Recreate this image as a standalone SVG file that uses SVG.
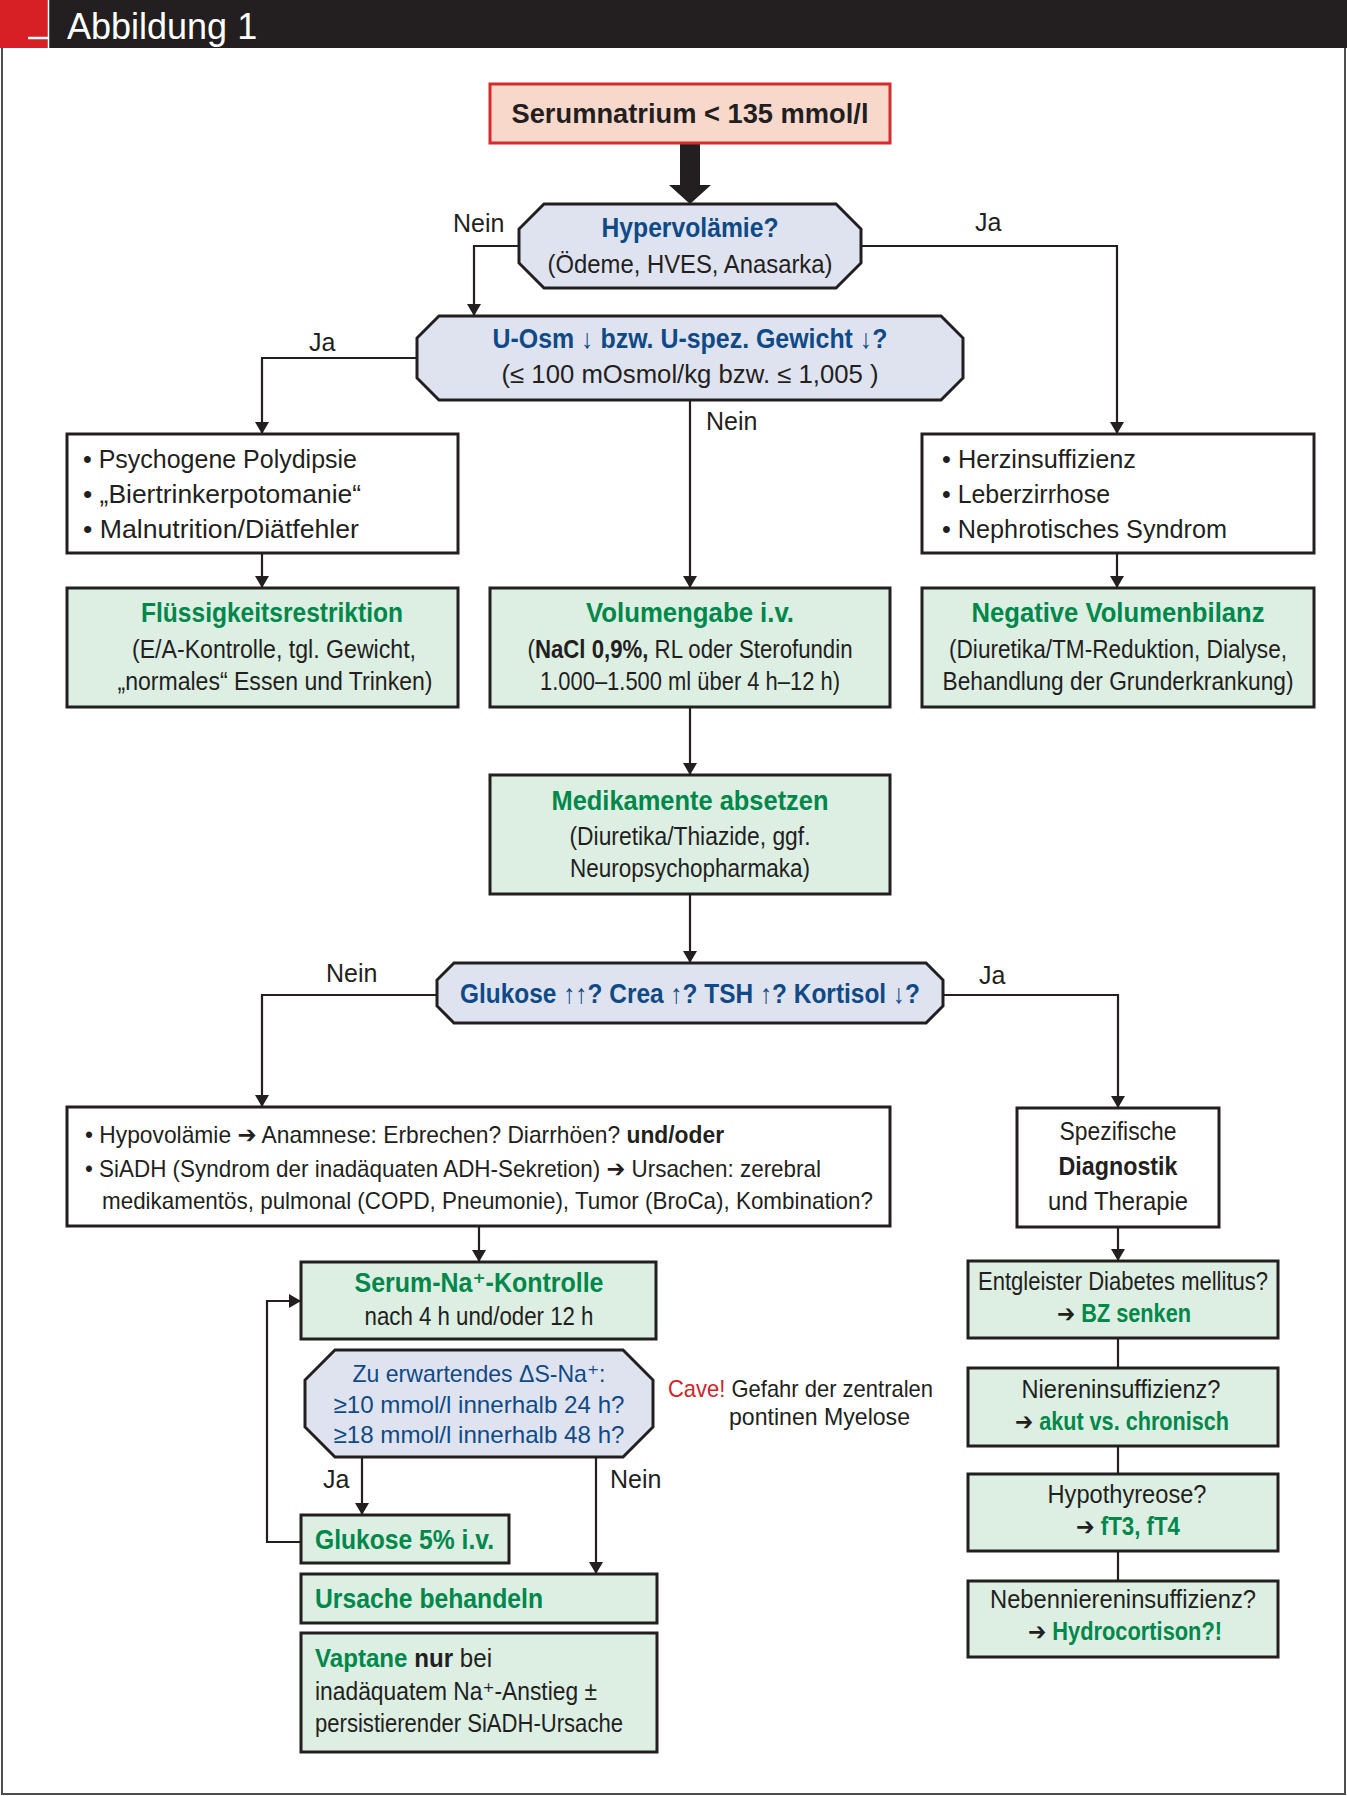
<svg xmlns="http://www.w3.org/2000/svg" width="1347" height="1796" viewBox="0 0 1347 1796">
<defs>
<marker id="ah" markerUnits="userSpaceOnUse" markerWidth="14" markerHeight="14" refX="12" refY="7" orient="auto"><path d="M0,0 L12,7 L0,14 z" fill="#231f20"/></marker>
</defs>
<style>
text{font-family:'Liberation Sans',Arial,'DejaVu Sans',sans-serif;fill:#231f20;font-size:25px}
.c{text-anchor:middle}
.b{font-weight:bold;font-size:27px}
.s{font-size:24px}
.bl{fill:#0f4a86}
.gr{fill:#00874a}
.red{fill:#d2232a}
.box{fill:#fff;stroke:#231f20;stroke-width:3}
.gbox{fill:#ddeee3;stroke:#231f20;stroke-width:3}
.oct{fill:#dfe3f0;stroke:#231f20;stroke-width:3}
.con{fill:none;stroke:#231f20;stroke-width:2.2}
.arr{marker-end:url(#ah)}
</style>

<g id="header">
<rect x="0" y="0" width="1347" height="48" fill="#231f20"/>
<rect x="0" y="0" width="48" height="48" fill="#d71f26"/>
<line x1="48.5" y1="0" x2="48.5" y2="48" stroke="#fff" stroke-width="1.5"/>
<line x1="28" y1="38" x2="48" y2="38" stroke="#fff" stroke-width="2.5"/>
<text x="67" y="39" style="fill:#fff;font-size:36px">Abbildung 1</text>
<path d="M2,48 L2,1794 L1345,1794 L1345,48" fill="none" stroke="#4d4d4d" stroke-width="2"/>
</g>

<g id="connectors">
<polygon points="680,143 700,143 700,185 711,185 690,204 669,185 680,185" fill="#231f20"/>
<polyline class="con arr" points="519,246 474,246 474,316"/>
<polyline class="con arr" points="861,246 1117,246 1117,434"/>
<polyline class="con arr" points="417,358 262,358 262,434"/>
<polyline class="con arr" points="690,400 690,588"/>
<polyline class="con arr" points="262,553 262,588"/>
<polyline class="con arr" points="1117,553 1117,588"/>
<polyline class="con arr" points="690,707 690,775"/>
<polyline class="con arr" points="690,894 690,963"/>
<polyline class="con arr" points="437,995 262,995 262,1107"/>
<polyline class="con arr" points="943,995 1118,995 1118,1108"/>
<polyline class="con arr" points="479,1226 479,1262"/>
<polyline class="con arr" points="362,1457 362,1515"/>
<polyline class="con arr" points="596,1457 596,1574"/>
<polyline class="con arr" points="301,1542 267,1542 267,1301 301,1301"/>
<polyline class="con arr" points="1118,1227 1118,1261"/>
<line class="con" x1="1118" y1="1338" x2="1118" y2="1368"/>
<line class="con" x1="1118" y1="1446" x2="1118" y2="1474"/>
<line class="con" x1="1118" y1="1551" x2="1118" y2="1581"/>
<text x="453" y="232">Nein</text>
<text x="975" y="231">Ja</text>
<text x="309" y="351">Ja</text>
<text x="706" y="430">Nein</text>
<text x="326" y="982">Nein</text>
<text x="979" y="984">Ja</text>
<text x="323" y="1488">Ja</text>
<text x="610" y="1488">Nein</text>
</g>

<g id="n-serum">
<rect x="490" y="84" width="400" height="59" fill="#f9d8cc" stroke="#d52b2f" stroke-width="3"/>
<text class="c b" x="690" y="123" textLength="357" lengthAdjust="spacingAndGlyphs">Serumnatrium &lt; 135 mmol/l</text>
</g>

<g id="n-hyper">
<polygon class="oct" points="544,204 836,204 861,229 861,263 836,288 544,288 519,263 519,229"/>
<text class="c b bl" x="690" y="237" textLength="177" lengthAdjust="spacingAndGlyphs">Hypervolämie?</text>
<text class="c" x="690" y="273" textLength="285" lengthAdjust="spacingAndGlyphs">(Ödeme, HVES, Anasarka)</text>
</g>

<g id="n-uosm">
<polygon class="oct" points="439,316 941,316 963,338 963,378 941,400 439,400 417,378 417,338"/>
<text class="c b bl" x="690" y="348" textLength="395" lengthAdjust="spacingAndGlyphs">U-Osm ↓ bzw. U-spez. Gewicht ↓?</text>
<text class="c" x="690" y="383" textLength="377" lengthAdjust="spacingAndGlyphs">(≤ 100 mOsmol/kg bzw. ≤ 1,005 )</text>
</g>

<g id="n-psych">
<rect class="box" x="67" y="434" width="391" height="119"/>
<text x="83" y="468" textLength="274" lengthAdjust="spacingAndGlyphs">• Psychogene Polydipsie</text>
<text x="83" y="503" textLength="278" lengthAdjust="spacingAndGlyphs">• „Biertrinkerpotomanie“</text>
<text x="83" y="538" textLength="276" lengthAdjust="spacingAndGlyphs">• Malnutrition/Diätfehler</text>
</g>

<g id="n-herz">
<rect class="box" x="922" y="434" width="392" height="119"/>
<text x="942" y="468" textLength="194" lengthAdjust="spacingAndGlyphs">• Herzinsuffizienz</text>
<text x="942" y="503" textLength="168" lengthAdjust="spacingAndGlyphs">• Leberzirrhose</text>
<text x="942" y="538" textLength="285" lengthAdjust="spacingAndGlyphs">• Nephrotisches Syndrom</text>
</g>

<g id="n-fluess">
<rect class="gbox" x="67" y="588" width="391" height="119"/>
<text class="c b gr" x="272" y="622" textLength="262" lengthAdjust="spacingAndGlyphs">Flüssigkeitsrestriktion</text>
<text class="c" x="274" y="658" textLength="284" lengthAdjust="spacingAndGlyphs">(E/A-Kontrolle, tgl. Gewicht,</text>
<text class="c" x="275" y="690" textLength="315" lengthAdjust="spacingAndGlyphs">„normales“ Essen und Trinken)</text>
</g>

<g id="n-volumen">
<rect class="gbox" x="490" y="588" width="400" height="119"/>
<text class="c b gr" x="690" y="622" textLength="208" lengthAdjust="spacingAndGlyphs">Volumengabe i.v.</text>
<text class="c" x="690" y="658" textLength="325" lengthAdjust="spacingAndGlyphs">(<tspan font-weight="bold">NaCl 0,9%,</tspan> RL oder Sterofundin</text>
<text class="c" x="690" y="690" textLength="300" lengthAdjust="spacingAndGlyphs">1.000–1.500 ml über 4 h–12 h)</text>
</g>

<g id="n-negativ">
<rect class="gbox" x="922" y="588" width="392" height="119"/>
<text class="c b gr" x="1118" y="622" textLength="293" lengthAdjust="spacingAndGlyphs">Negative Volumenbilanz</text>
<text class="c" x="1118" y="658" textLength="338" lengthAdjust="spacingAndGlyphs">(Diuretika/TM-Reduktion, Dialyse,</text>
<text class="c" x="1118" y="690" textLength="351" lengthAdjust="spacingAndGlyphs">Behandlung der Grunderkrankung)</text>
</g>

<g id="n-medi">
<rect class="gbox" x="490" y="775" width="400" height="119"/>
<text class="c b gr" x="690" y="810" textLength="277" lengthAdjust="spacingAndGlyphs">Medikamente absetzen</text>
<text class="c" x="690" y="845" textLength="241" lengthAdjust="spacingAndGlyphs">(Diuretika/Thiazide, ggf.</text>
<text class="c" x="690" y="877" textLength="240" lengthAdjust="spacingAndGlyphs">Neuropsychopharmaka)</text>
</g>

<g id="n-glukose">
<polygon class="oct" points="454,963 926,963 943,980 943,1006 926,1023 454,1023 437,1006 437,980"/>
<text class="c b bl" x="690" y="1003" textLength="460" lengthAdjust="spacingAndGlyphs">Glukose ↑↑? Crea ↑? TSH ↑? Kortisol ↓?</text>
</g>

<g id="n-hypovol">
<rect class="box" x="67" y="1107" width="823" height="119"/>
<text class="s" x="85" y="1143" textLength="639" lengthAdjust="spacingAndGlyphs">•  Hypovolämie ➔ Anamnese:  Erbrechen? Diarrhöen? <tspan font-weight="bold">und/oder</tspan></text>
<text class="s" x="85" y="1177" textLength="736" lengthAdjust="spacingAndGlyphs">•  SiADH (Syndrom der inadäquaten ADH-Sekretion) ➔ Ursachen: zerebral</text>
<text class="s" x="102" y="1209" textLength="771" lengthAdjust="spacingAndGlyphs">medikamentös, pulmonal (COPD, Pneumonie), Tumor (BroCa), Kombination?</text>
</g>

<g id="n-spez">
<rect class="box" x="1017" y="1108" width="202" height="119"/>
<text class="c" x="1118" y="1140" textLength="117" lengthAdjust="spacingAndGlyphs">Spezifische</text>
<text class="c b" x="1118" y="1175" style="font-size:25px" textLength="119" lengthAdjust="spacingAndGlyphs">Diagnostik</text>
<text class="c" x="1118" y="1210" textLength="140" lengthAdjust="spacingAndGlyphs">und Therapie</text>
</g>

<g id="n-diabetes">
<rect class="gbox" x="968" y="1261" width="310" height="77"/>
<text class="c" x="1123" y="1290" textLength="290" lengthAdjust="spacingAndGlyphs">Entgleister Diabetes mellitus?</text>
<text class="c" x="1124" y="1322" textLength="134" lengthAdjust="spacingAndGlyphs">➔ <tspan class="gr" font-weight="bold">BZ senken</tspan></text>
</g>

<g id="n-niere">
<rect class="gbox" x="968" y="1368" width="310" height="78"/>
<text class="c" x="1121" y="1398" textLength="199" lengthAdjust="spacingAndGlyphs">Niereninsuffizienz?</text>
<text class="c" x="1122" y="1430" textLength="214" lengthAdjust="spacingAndGlyphs">➔ <tspan class="gr" font-weight="bold">akut vs. chronisch</tspan></text>
</g>

<g id="n-hypothyreose">
<rect class="gbox" x="968" y="1474" width="310" height="77"/>
<text class="c" x="1127" y="1503" textLength="159" lengthAdjust="spacingAndGlyphs">Hypothyreose?</text>
<text class="c" x="1128" y="1535" textLength="104" lengthAdjust="spacingAndGlyphs">➔ <tspan class="gr" font-weight="bold">fT3, fT4</tspan></text>
</g>

<g id="n-nebenniere">
<rect class="gbox" x="968" y="1581" width="310" height="76"/>
<text class="c" x="1123" y="1608" textLength="266" lengthAdjust="spacingAndGlyphs">Nebenniereninsuffizienz?</text>
<text class="c" x="1125" y="1640" textLength="194" lengthAdjust="spacingAndGlyphs">➔ <tspan class="gr" font-weight="bold">Hydrocortison?!</tspan></text>
</g>

<g id="n-serumna">
<rect class="gbox" x="301" y="1262" width="355" height="77"/>
<text class="c b gr" x="479" y="1292" textLength="249" lengthAdjust="spacingAndGlyphs">Serum-Na⁺-Kontrolle</text>
<text class="c" x="479" y="1325" textLength="229" lengthAdjust="spacingAndGlyphs">nach 4 h und/oder 12 h</text>
</g>

<g id="n-zu">
<polygon class="oct" points="335,1350 623,1350 653,1380 653,1427 623,1457 335,1457 305,1427 305,1380"/>
<text class="c bl s" x="479" y="1382" textLength="253" lengthAdjust="spacingAndGlyphs">Zu erwartendes ΔS-Na⁺:</text>
<text class="c bl s" x="479" y="1413" textLength="291" lengthAdjust="spacingAndGlyphs">≥10 mmol/l innerhalb 24 h?</text>
<text class="c bl s" x="479" y="1443" textLength="291" lengthAdjust="spacingAndGlyphs">≥18 mmol/l innerhalb 48 h?</text>
</g>

<g id="n-cave">
<text class="s" x="668" y="1397" textLength="265" lengthAdjust="spacingAndGlyphs"><tspan class="red">Cave!</tspan> Gefahr der zentralen</text>
<text class="s" x="729" y="1425" textLength="181" lengthAdjust="spacingAndGlyphs">pontinen Myelose</text>
</g>

<g id="n-glukose5">
<rect class="gbox" x="301" y="1515" width="208" height="48"/>
<text class="b gr" x="315" y="1549" textLength="179" lengthAdjust="spacingAndGlyphs">Glukose 5% i.v.</text>
</g>

<g id="n-ursache">
<rect class="gbox" x="301" y="1574" width="356" height="49"/>
<text class="b gr" x="315" y="1608" textLength="228" lengthAdjust="spacingAndGlyphs">Ursache behandeln</text>
</g>

<g id="n-vaptane">
<rect class="gbox" x="301" y="1633" width="356" height="119"/>
<text x="315" y="1667" textLength="177" lengthAdjust="spacingAndGlyphs"><tspan class="gr" font-weight="bold">Vaptane</tspan> <tspan font-weight="bold">nur</tspan> bei</text>
<text x="315" y="1700" textLength="282" lengthAdjust="spacingAndGlyphs">inadäquatem Na⁺-Anstieg ±</text>
<text x="315" y="1732" textLength="308" lengthAdjust="spacingAndGlyphs">persistierender SiADH-Ursache</text>
</g>
</svg>
